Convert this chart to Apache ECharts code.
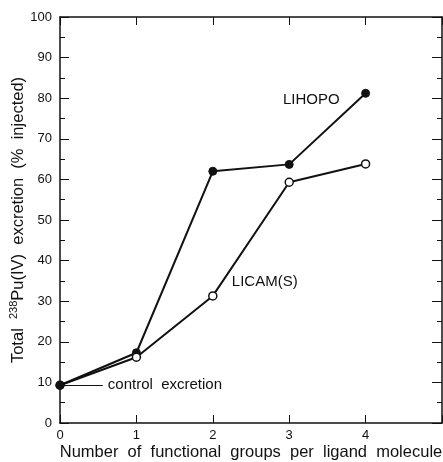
<!DOCTYPE html>
<html>
<head>
<meta charset="utf-8">
<script src="https://cdn.jsdelivr.net/npm/echarts@6/dist/echarts.min.js"></script>
<style>
  html, body { margin: 0; padding: 0; background: #fff; }
  #main { width: 443px; height: 462px; }
</style>
</head>
<body>
<div id="main"></div>
<script>
// 数据
const groups = [0, 1, 2, 3, 4];
const lihopo = [9.3, 17.3, 62, 63.7, 81.2];
const licam = [9.3, 16.2, 31.3, 59.3, 63.8];
const controlLevel = 9.3;
const xTicks = [0, 1, 2, 3, 4, 5];

const ink = '#111';
const font = 'Liberation Sans, Arial, Helvetica, sans-serif';

const myChart = echarts.init(document.getElementById('main'));

// 坐标轴公共样式
const lineStyle = { color: ink, width: 1.5 };
const tickStyle = { color: ink, width: 1 };

const options = {
  animation: false,
  backgroundColor: '#fff',
  grid: { left: 60, right: 1, top: 17, bottom: 39, containLabel: false, outerBoundsMode: 'none' },
  xAxis: [
    {
      type: 'value',
      gridIndex: 0,
      min: xTicks[0],
      max: xTicks[xTicks.length - 1],
      interval: 1,
      position: 'bottom',
      splitLine: { show: false },
      axisLine: { show: true, onZero: false, lineStyle },
      axisTick: { show: true, inside: true, length: 8, lineStyle: tickStyle },
      axisLabel: {
        color: ink, fontSize: 13, fontFamily: font, margin: 6,
        formatter: v => (v === 5 ? '' : String(v))
      },
      name: 'Number  of  functional  groups  per  ligand  molecule',
      nameLocation: 'middle',
      nameGap: 21,
      nameMoveOverlap: false,
      nameTextStyle: { color: ink, fontSize: 16.5, fontFamily: font }
    },
    {
      type: 'value',
      gridIndex: 0,
      show: true,
      min: xTicks[0],
      max: xTicks[xTicks.length - 1],
      interval: 1,
      position: 'top',
      splitLine: { show: false },
      axisLine: { show: true, onZero: false, lineStyle },
      axisTick: { show: true, inside: true, length: 8, lineStyle: tickStyle },
      axisLabel: { show: false }
    }
  ],
  yAxis: [
    {
      type: 'value',
      gridIndex: 0,
      min: 0,
      max: 100,
      interval: 10,
      position: 'left',
      splitLine: { show: false },
      axisLine: { show: true, onZero: false, lineStyle },
      axisTick: { show: true, inside: true, length: 9, lineStyle: tickStyle },
      minorTick: { show: true, splitNumber: 2, length: 5, lineStyle: tickStyle },
      axisLabel: { color: ink, fontSize: 13, fontFamily: font, margin: 8 },
      name: '{t|Total  }{sup|238}{t|Pu(IV)  excretion  (%  injected)}',
      nameLocation: 'middle',
      nameGap: 32,
      nameMoveOverlap: false,
      nameTextStyle: {
        color: ink, fontFamily: font,
        rich: {
          t: { fontSize: 16.5, fontFamily: font, color: ink, lineHeight: 20 },
          sup: { fontSize: 11, fontFamily: font, color: ink, verticalAlign: 'top', lineHeight: 20, padding: [0, 0, 8, 0] }
        }
      }
    },
    {
      type: 'value',
      gridIndex: 0,
      show: true,
      min: 0,
      max: 100,
      interval: 10,
      position: 'right',
      splitLine: { show: false },
      axisLine: { show: true, onZero: false, lineStyle },
      axisTick: { show: true, inside: true, length: 10, lineStyle: tickStyle },
      minorTick: { show: true, splitNumber: 2, length: 5, lineStyle: tickStyle },
      axisLabel: { show: false }
    }
  ],
  series: [
    {
      name: 'LIHOPO',
      type: 'line',
      z: 2,
      data: groups.map((g, i) => [g, lihopo[i]]),
      symbol: 'circle',
      symbolSize: 8,
      lineStyle: { color: ink, width: 2 },
      itemStyle: { color: ink, borderColor: ink, borderWidth: 1 },
      markPoint: {
        symbol: 'circle',
        symbolSize: 0,
        data: [{ coord: [3.29, 79.5], value: 'LIHOPO' }],
        label: {
          show: true, position: 'inside', color: ink,
          fontSize: 15, fontFamily: font, formatter: 'LIHOPO'
        }
      }
    },
    {
      name: 'LICAM(S)',
      type: 'line',
      z: 3,
      data: groups.map((g, i) => (i === 0
        ? { value: [g, licam[i]], itemStyle: { color: ink } }
        : [g, licam[i]])),
      symbol: 'circle',
      symbolSize: 8,
      lineStyle: { color: ink, width: 2 },
      itemStyle: { color: '#fff', borderColor: ink, borderWidth: 1.5 },
      markPoint: {
        symbol: 'circle',
        symbolSize: 0,
        data: [{ coord: [2.68, 34.7], value: 'LICAM(S)' }],
        label: {
          show: true, position: 'inside', color: ink,
          fontSize: 15, fontFamily: font, formatter: 'LICAM(S)'
        }
      },
      markLine: {
        silent: true,
        symbol: ['none', 'none'],
        lineStyle: { color: ink, width: 1.2, type: 'solid' },
        label: {
          show: true, position: 'end', distance: 5, color: ink,
          fontSize: 15, fontFamily: font, formatter: 'control  excretion'
        },
        data: [[{ coord: [0.05, controlLevel] }, { coord: [0.56, controlLevel] }]]
      }
    }
  ]
};

myChart.setOption(options);
</script>
</body>
</html>
